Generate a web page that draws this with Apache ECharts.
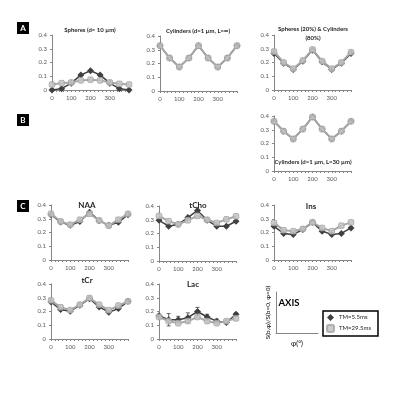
<!DOCTYPE html>
<html>
<head>
<meta charset="utf-8">
<style>
  html, body { margin: 0; padding: 0; background: #fff; }
  #chart { width: 400px; height: 394px; }
</style>
<script src="https://cdn.jsdelivr.net/npm/echarts@6/dist/echarts.min.js"></script>
</head>
<body>
<div id="chart"></div>
<script>
  // angle positions as read on the x axis
  const phi = [0, 50, 100, 150, 200, 250, 300, 350, 400];
  const xTickLabels = ['0', '100', '200', '300'];
  const yTickLabels = ['0', '0.1', '0.2', '0.3', '0.4'];

  // A: simulations
  const spheresTM55 = [0, 0.01, 0.05, 0.11, 0.14, 0.11, 0.05, 0.01, 0];
  const spheresTM295 = [0.04, 0.05, 0.055, 0.07, 0.075, 0.07, 0.055, 0.045, 0.04];
  const cylInfTM55 = [0.33, 0.24, 0.175, 0.24, 0.33, 0.24, 0.175, 0.24, 0.33];
  const cylInfTM295 = [0.33, 0.24, 0.175, 0.24, 0.33, 0.24, 0.175, 0.24, 0.33];
  const mixTM55 = [0.265, 0.195, 0.15, 0.21, 0.29, 0.205, 0.15, 0.195, 0.265];
  const mixTM295 = [0.28, 0.2, 0.155, 0.215, 0.295, 0.21, 0.155, 0.2, 0.275];
  // B
  const cyl30TM55 = [0.362, 0.29, 0.233, 0.305, 0.393, 0.305, 0.233, 0.29, 0.362];
  const cyl30TM295 = [0.362, 0.29, 0.233, 0.305, 0.393, 0.305, 0.233, 0.29, 0.362];
  // C: metabolites
  const naaTM55 = [0.33, 0.276, 0.252, 0.28, 0.348, 0.286, 0.252, 0.274, 0.33];
  const naaTM295 = [0.336, 0.28, 0.257, 0.293, 0.336, 0.288, 0.25, 0.293, 0.336];
  const tchoTM55 = [0.296, 0.253, 0.267, 0.316, 0.368, 0.296, 0.253, 0.253, 0.289];
  const tchoTM295 = [0.328, 0.29, 0.267, 0.296, 0.328, 0.3, 0.277, 0.303, 0.325];
  const insTM55 = [0.245, 0.193, 0.186, 0.221, 0.274, 0.21, 0.186, 0.193, 0.233];
  const insTM295 = [0.27, 0.217, 0.21, 0.226, 0.274, 0.233, 0.21, 0.25, 0.274];
  const tcrTM55 = [0.269, 0.214, 0.202, 0.245, 0.293, 0.233, 0.195, 0.221, 0.274];
  const tcrTM295 = [0.281, 0.231, 0.21, 0.25, 0.298, 0.25, 0.21, 0.243, 0.274];
  const lacTM55 = [0.17, 0.14, 0.14, 0.155, 0.2, 0.16, 0.13, 0.12, 0.18];
  const lacTM295 = [0.16, 0.13, 0.115, 0.13, 0.16, 0.13, 0.115, 0.13, 0.15];
  const lacErrTM55 = [0.01, 0.045, 0.025, 0.035, 0.03, 0.02, 0.015, 0.01, 0.01];

  const seriesNames = ['TM=5.5ms', 'TM=29.5ms'];

  const FONT = 'Lato, "Open Sans", sans-serif';
  const DARK = '#404040';
  const LIGHT = '#a6a6a6';

  // panel layout: plot box in pixels
  const panels = [
    { title: 'Spheres (d= 10 µm)', tx: 90, ty: 26, fs: 6, left: 52, top: 35, a: spheresTM55, b: spheresTM295 },
    { title: 'Cylinders (d=1 µm, L=∞)', tx: 198, ty: 27, fs: 6, left: 160, top: 36, a: cylInfTM55, b: cylInfTM295 },
    { title: 'Spheres (20%) & Cylinders\n(80%)', tx: 313, ty: 25, fs: 6, left: 274, top: 35, a: mixTM55, b: mixTM295 },
    { title: 'Cylinders (d=1 µm, L=30 µm)', tx: 313, ty: 158, fs: 6, left: 274, top: 116, a: cyl30TM55, b: cyl30TM295 },
    { title: 'NAA', tx: 87, ty: 200, fs: 8, left: 51, top: 205, a: naaTM55, b: naaTM295 },
    { title: 'tCho', tx: 198, ty: 200, fs: 8, left: 159, top: 206, a: tchoTM55, b: tchoTM295 },
    { title: 'Ins', tx: 311, ty: 201, fs: 8, left: 274, top: 205, a: insTM55, b: insTM295 },
    { title: 'tCr', tx: 87, ty: 275, fs: 8, left: 51, top: 284, a: tcrTM55, b: tcrTM295 },
    { title: 'Lac', tx: 193, ty: 279, fs: 8, left: 159, top: 284, a: lacTM55, b: lacTM295, err: lacErrTM55 }
  ];

  const grids = [], xAxes = [], yAxes = [], series = [], titles = [];
  const pair = (ys) => phi.map((x, i) => [x, ys[i]]);

  panels.forEach((p, k) => {
    grids.push({ left: p.left, top: p.top, width: 77, height: 55 });
    xAxes.push({
      gridIndex: k, type: 'value', min: 0, max: 400, interval: 100,
      axisLine: { lineStyle: { color: '#868686', width: 1 } },
      axisTick: { show: true, length: 2, lineStyle: { color: '#868686' } },
      minorTick: { show: true, splitNumber: 5, length: 2, lineStyle: { color: '#868686' } },
      splitLine: { show: false },
      axisLabel: {
        showMaxLabel: false, fontSize: 6, color: '#595959', fontFamily: FONT, margin: 5,
        formatter: (v) => xTickLabels[v / 100] || ''
      }
    });
    yAxes.push({
      gridIndex: k, type: 'value', min: 0, max: 0.4, interval: 0.1,
      axisLine: { show: true, lineStyle: { color: '#868686', width: 1 } },
      axisTick: { show: true, length: 2, lineStyle: { color: '#868686' } },
      splitLine: { show: false },
      axisLabel: {
        fontSize: 6, color: '#595959', fontFamily: FONT, margin: 5,
        formatter: (v) => yTickLabels[Math.round(v * 10)]
      }
    });
    series.push({
      name: seriesNames[0], type: 'line', xAxisIndex: k, yAxisIndex: k,
      data: pair(p.a), symbol: 'diamond', symbolSize: 7,
      lineStyle: { color: DARK, width: 1.5 },
      itemStyle: { color: DARK }, z: 2, animation: false
    });
    series.push({
      name: seriesNames[1], type: 'line', xAxisIndex: k, yAxisIndex: k,
      data: pair(p.b), symbol: 'roundRect', symbolSize: 5.5,
      lineStyle: { color: LIGHT, width: 2 },
      itemStyle: { color: '#c4c4c4', borderColor: LIGHT, borderWidth: 1, opacity: 0.85 }, z: 3, animation: false
    });
    if (p.err) {
      series.push({
        type: 'custom', xAxisIndex: k, yAxisIndex: k, z: 1, animation: false,
        data: phi.map((x, i) => [x, p.a[i] - p.err[i], p.a[i] + p.err[i]]),
        renderItem: (params, api) => {
          const lo = api.coord([api.value(0), api.value(1)]);
          const hi = api.coord([api.value(0), api.value(2)]);
          const st = { stroke: DARK, lineWidth: 0.8 };
          return {
            type: 'group', children: [
              { type: 'line', shape: { x1: hi[0], y1: hi[1], x2: lo[0], y2: lo[1] }, style: st },
              { type: 'line', shape: { x1: hi[0] - 2, y1: hi[1], x2: hi[0] + 2, y2: hi[1] }, style: st },
              { type: 'line', shape: { x1: lo[0] - 2, y1: lo[1], x2: lo[0] + 2, y2: lo[1] }, style: st }
            ]
          };
        }
      });
    }
    titles.push({
      text: p.title, left: p.tx, top: p.ty, textAlign: 'center', padding: 0,
      textStyle: { fontSize: p.fs, fontWeight: 'bold', color: '#262626', fontFamily: FONT, lineHeight: p.fs + 3 }
    });
  });

  // the "AXIS" key panel
  const ka = panels.length;
  grids.push({ left: 276, top: 292, width: 42, height: 41 });
  xAxes.push({
    gridIndex: ka, type: 'value', min: 0, max: 1, name: 'φ(°)', nameLocation: 'middle', nameGap: 7,
    nameTextStyle: { fontSize: 7, color: '#000', fontFamily: FONT },
    axisLine: { lineStyle: { color: '#868686' } }, axisTick: { show: false },
    axisLabel: { show: false }, splitLine: { show: false }
  });
  yAxes.push({
    gridIndex: ka, type: 'value', min: 0, max: 1, name: 'S(b,φ)/S(b=0, φ=0)', nameLocation: 'middle', nameGap: 5,
    nameTextStyle: { fontSize: 6.5, color: '#000', fontFamily: FONT },
    axisLine: { show: true, lineStyle: { color: '#868686' } }, axisTick: { show: false },
    axisLabel: { show: false }, splitLine: { show: false }
  });
  titles.push({
    text: 'AXIS', left: 289, top: 298, textAlign: 'center', padding: 0,
    textStyle: { fontSize: 9.5, fontWeight: 'bold', color: '#000', fontFamily: FONT }
  });

  const letterBox = (ch, x, y) => ({
    type: 'group', left: x, top: y, children: [
      { type: 'rect', shape: { x: 0, y: 0, width: 12, height: 12 }, style: { fill: '#000' } },
      { type: 'text', x: 6, y: 6, style: { text: ch, fill: '#fff', font: 'bold 8px ' + FONT, textAlign: 'center', textVerticalAlign: 'middle' } }
    ]
  });

  const option = {
    backgroundColor: '#fff',
    animation: false,
    title: titles,
    grid: grids,
    xAxis: xAxes,
    yAxis: yAxes,
    series: series,
    legend: {
      data: [{ name: seriesNames[0], icon: 'diamond' }, { name: seriesNames[1], icon: 'roundRect' }],
      orient: 'vertical', left: 323, top: 311,
      itemWidth: 7, itemHeight: 7, itemGap: 3,
      padding: [3, 7, 3, 3],
      borderColor: '#000', borderWidth: 1.5,
      textStyle: { fontSize: 6, color: '#262626', fontFamily: FONT }
    },
    graphic: [letterBox('A', 17, 22), letterBox('B', 17, 114), letterBox('C', 17, 200)]
  };

  const chart = echarts.init(document.getElementById('chart'), null, { renderer: 'canvas' });
  chart.setOption(option);
  window.addEventListener('resize', () => chart.resize());
</script>
</body>
</html>
